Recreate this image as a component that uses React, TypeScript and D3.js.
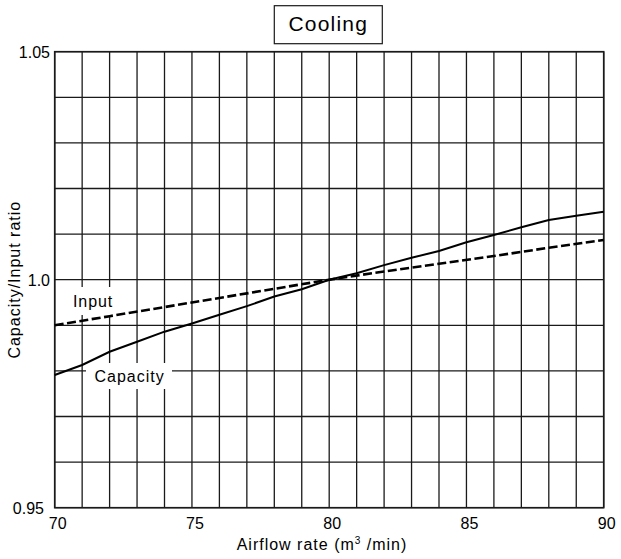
import React from "react";
import * as d3 from "d3";

const airflow = [70, 71, 72, 73, 74, 75, 76, 77, 78, 79, 80, 81, 82, 83, 84, 85, 86, 87, 88, 89, 90];
const capacity = [0.9791, 0.9813, 0.9842, 0.9864, 0.9886, 0.9904, 0.9923, 0.9942, 0.9963, 0.9979, 1.0, 1.0014, 1.0032, 1.0048, 1.0063, 1.0082, 1.0098, 1.0115, 1.0131, 1.014, 1.0149];
const inputX = [70, 72, 74, 76, 78, 80, 82, 84, 86, 88, 90];
const inputY = [0.990, 0.992, 0.994, 0.996, 0.998, 1.0, 1.0018, 1.0035, 1.0052, 1.007, 1.0087];
const xTicks = [70, 75, 80, 85, 90];
const yTicks = [0.95, 1.0, 1.05];
const yTickLabels = ["0.95", "1.0", "1.05"];
const xGrid = d3.range(70, 91, 1);
const yGrid = d3.range(0, 11).map((i) => 0.95 + i * 0.01);

const FONT = "'Liberation Sans', Arial, Helvetica, sans-serif";

export default function App() {
  const W = 621, H = 559;
  const x = d3.scaleLinear().domain([70, 90]).range([54.7, 603.7]);
  const y = d3.scaleLinear().domain([0.95, 1.05]).range([507.7, 51.7]);
  const line = d3.line<[number, number]>().x((d) => x(d[0])).y((d) => y(d[1]));
  const capPts = airflow.map((a, i) => [a, capacity[i]] as [number, number]);
  const inPts = inputX.map((a, i) => [a, inputY[i]] as [number, number]);
  const stroke = "#1a1a1a";

  return (
    <svg width={W} height={H} style={{ position: "absolute", left: 0, top: 0, display: "block", background: "#fff" }} fontFamily={FONT}>
      <rect x={0} y={0} width={W} height={H} fill="#fff" />
      {xGrid.map((v) => (
        <line key={"vx" + v} x1={x(v)} x2={x(v)} y1={y(0.95)} y2={y(1.05)} stroke={stroke} strokeWidth={1.3} />
      ))}
      {yGrid.map((v, i) => (
        <line key={"hy" + i} x1={x(70)} x2={x(90)} y1={y(v)} y2={y(v)} stroke={stroke} strokeWidth={1.3} />
      ))}
      <rect x={x(70)} y={y(1.05)} width={x(90) - x(70)} height={y(0.95) - y(1.05)} fill="none" stroke={stroke} strokeWidth={1.6} />

      {/* label backgrounds */}
      <rect x={68} y={287} width={50} height={28} fill="#fff" />
      <rect x={86} y={363} width={86} height={26} fill="#fff" />

      <path d={line(inPts) || ""} fill="none" stroke="#000" strokeWidth={2.6} strokeDasharray="9,3.5" />
      <path d={line(capPts) || ""} fill="none" stroke="#000" strokeWidth={2} />

      <text x={73} y={307} fontSize={16} letterSpacing={0.9} fill="#000">Input</text>
      <text x={94.5} y={382} fontSize={16} letterSpacing={1} fill="#000">Capacity</text>

      {/* title */}
      <rect x={274.3} y={5.7} width={108} height={38} fill="#fff" stroke={stroke} strokeWidth={1.2} />
      <text x={328.3} y={31} fontSize={21} letterSpacing={1.2} textAnchor="middle" fill="#000">Cooling</text>

      {/* y ticks */}
      {yTicks.map((v, i) => (
        <text key={"yt" + i} x={v === 0.95 ? 44 : 50} y={y(v) + 2.5} fontSize={16} textAnchor="end" dominantBaseline="middle" fill="#000">
          {yTickLabels[i]}
        </text>
      ))}
      {/* x ticks */}
      {xTicks.map((v) => (
        <text key={"xt" + v} x={x(v) + 3} y={529} fontSize={16} textAnchor="middle" fill="#000">
          {v}
        </text>
      ))}

      <text x={322} y={550} fontSize={16} letterSpacing={1} textAnchor="middle" fill="#000">
        Airflow rate (m<tspan fontSize={10} dy={-6}>3</tspan><tspan dy={6}> /min)</tspan>
      </text>
      <text transform={`translate(20, ${(y(0.95) + y(1.05)) / 2}) rotate(-90)`} fontSize={16} letterSpacing={1} textAnchor="middle" fill="#000">
        Capacity/Input ratio
      </text>
    </svg>
  );
}
